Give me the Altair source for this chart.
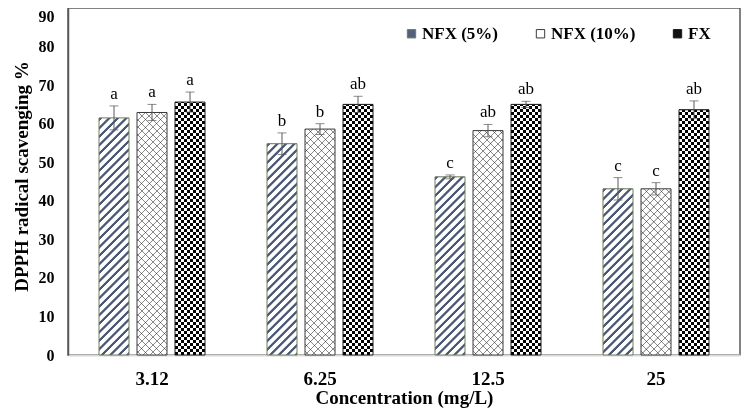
import altair as alt
import pandas as pd

# ---------------- data ----------------
concs = ["3.12", "6.25", "12.5", "25"]
series = ["NFX (5%)", "NFX (10%)", "FX"]
nfx5 = [61.5, 54.8, 46.2, 43.1]
nfx10 = [62.9, 58.6, 58.2, 43.1]
fx = [65.6, 65.0, 65.0, 63.6]
nfx5_err = [3.1, 2.8, 0.5, 2.9]
nfx10_err = [2.1, 1.4, 1.6, 1.6]
fx_err = [2.6, 2.1, 0.8, 2.3]
nfx5_lab = ["a", "b", "c", "c"]
nfx10_lab = ["a", "b", "ab", "c"]
fx_lab = ["a", "ab", "ab", "ab"]
y_ticks = [0, 10, 20, 30, 40, 50, 60, 70, 80, 90]

# ---------------- layout ----------------
PW, PH = 672, 347
YMAX = 90
BAND = PW / len(concs)
PI = 8 / 38
STEP = 38.0
PO = ((BAND / STEP) - 3 + PI) / 2
BW = STEP * (1 - PI)
FONT = "Liberation Serif"

rows = []
vals = [nfx5, nfx10, fx]
errs = [nfx5_err, nfx10_err, fx_err]
labs = [nfx5_lab, nfx10_lab, fx_lab]
idx = 0
for ci, c in enumerate(concs):
    for si, s in enumerate(series):
        v = vals[si][ci]
        e = errs[si][ci]
        rows.append(dict(idx=idx, conc=c, series=s, value=v, lo=v - e, hi=v + e,
                         label=labs[si][ci]))
        idx += 1
df = pd.DataFrame(rows)


def band_stops(L, period, on_len, on, off, soft=0.0, phase=0.0):
    stops = [{"offset": 0.0, "color": off}]
    k = 0
    while True:
        a = phase + k * period
        if a > L:
            break
        b = a + on_len
        for p, col in [(a, off), (a + soft, on), (b, on), (b + soft, off)]:
            o = min(max(p / L, 0.0), 1.0)
            if o < stops[-1]["offset"]:
                o = stops[-1]["offset"]
            stops.append({"offset": round(o, 5), "color": col})
        k += 1
    stops.append({"offset": 1.0, "color": off})
    return stops


def diag_grad(W, H, stops, up=True):
    s = (W + H) / (W * W + H * H)
    if up:  # "/" stripes
        return {"gradient": "linear", "x1": 0, "y1": 0, "x2": W * s, "y2": H * s, "stops": stops}
    return {"gradient": "linear", "x1": 0, "y1": 1, "x2": W * s, "y2": 1 - H * s, "stops": stops}


x_enc = alt.X("conc:N", sort=concs,
              scale=alt.Scale(domain=concs, paddingInner=0, paddingOuter=0),
              axis=alt.Axis(title="Concentration (mg/L)", labelAngle=0, labelFont=FONT,
                            labelFontSize=19, labelFontWeight="bold", labelColor="black",
                            labelPadding=14, ticks=False, tickSize=0,
                            domainColor="#d9d9d9", domainWidth=2,
                            titleFont=FONT, titleFontSize=19, titleFontWeight="bold",
                            titleColor="black", titlePadding=0))
xo_enc = alt.XOffset("series:N", sort=series,
                     scale=alt.Scale(domain=series, paddingInner=PI, paddingOuter=PO))
y_enc = alt.Y("value:Q", scale=alt.Scale(domain=[0, YMAX], nice=False),
              axis=alt.Axis(values=y_ticks, tickCount=10, title="DPPH radical scavenging %",
                            grid=False, ticks=False, tickSize=0, labelPadding=14,
                            labelOverlap=False, labelBound=False, labelFlush=False,
                            labelBaseline={"condition": {"test": "datum.value == 90", "value": "top"},
                                           "value": "middle"},
                            domainColor="#595959", domainWidth=1.5,
                            labelFont=FONT, labelFontSize=16, labelFontWeight="bold",
                            labelColor="black", titleFont=FONT, titleFontSize=19,
                            titleFontWeight="bold", titleColor="black", titlePadding=7,
                            titleY=168))

base = alt.Chart(df)

layers = []
# base bars carry the legend
layers.append(base.mark_bar().encode(
    x=x_enc, xOffset=xo_enc, y=y_enc,
    fill=alt.Fill("series:N", sort=series,
                  scale=alt.Scale(domain=series, range=["#55617a", "#ffffff", "#111111"]),
                  legend=alt.Legend(orient="none", legendX=335, legendY=17, direction="horizontal",
                                    title=None, symbolType="square", symbolSize=70,
                                    symbolStrokeColor="#555555", symbolStrokeWidth=1,
                                    labelFont=FONT, labelFontSize=17, labelFontWeight="bold",
                                    labelColor="black", labelOffset=2, columnPadding=33))))

for r in rows:
    H = r["value"] / YMAX * PH
    sub = base.transform_filter(alt.datum.idx == r["idx"])
    enc = dict(x=alt.X("conc:N", sort=concs), xOffset=alt.XOffset("series:N", sort=series),
               y=alt.Y("value:Q"))
    if r["series"] == "NFX (5%)":
        st = band_stops(BW + H, 8.5, 3.2, "#4b5876", "#ffffff", soft=0.9)
        layers.append(sub.mark_bar(fill=diag_grad(BW, H, st, True)).encode(**enc))
    elif r["series"] == "NFX (10%)":
        st = band_stops(BW + H, 7.5, 1.1, "#8a8a8a", "#ffffff", soft=0.35)
        layers.append(sub.mark_bar(fill=diag_grad(BW, H, st, True)).encode(**enc))
        st2 = band_stops(BW + H, 7.5, 1.1, "#8a8a8a", "#ffffff", soft=0.35, phase=3.0)
        layers.append(sub.mark_bar(fill=diag_grad(BW, H, st2, False), blend="multiply").encode(**enc))
    else:
        st = band_stops(H, 6.0, 3.0, "#ffffff", "#000000")
        layers.append(sub.mark_bar(fill={"gradient": "linear", "x1": 0, "y1": 1, "x2": 0, "y2": 0,
                                         "stops": st}).encode(**enc))
        st2 = band_stops(BW, 6.0, 3.0, "#ffffff", "#000000")
        layers.append(sub.mark_bar(fill={"gradient": "linear", "x1": 0, "y1": 0, "x2": 1, "y2": 0,
                                         "stops": st2}, blend="difference").encode(**enc))

# outlines
layers.append(base.mark_bar(fillOpacity=0, strokeWidth=1).encode(
    x=alt.X("conc:N", sort=concs), xOffset=alt.XOffset("series:N", sort=series), y=alt.Y("value:Q"),
    stroke=alt.Stroke("series:N", sort=series,
                      scale=alt.Scale(domain=series, range=["#6f7d58", "#3a3a3a", "#1a1a1a"]),
                      legend=None)))

# error bars
layers.append(base.mark_rule(color="#595959", strokeWidth=1).encode(
    x=alt.X("conc:N", sort=concs), xOffset=alt.XOffset("series:N", sort=series),
    y=alt.Y("lo:Q"), y2="hi:Q"))
for fld in ["hi", "lo"]:
    layers.append(base.mark_tick(color="#595959", thickness=1, size=9, orient="horizontal").encode(
        x=alt.X("conc:N", sort=concs), xOffset=alt.XOffset("series:N", sort=series),
        y=alt.Y(f"{fld}:Q")))

# significance letters
layers.append(base.mark_text(font=FONT, fontSize=17, baseline="alphabetic", dy=-7,
                             color="black").encode(
    x=alt.X("conc:N", sort=concs), xOffset=alt.XOffset("series:N", sort=series),
    y=alt.Y("hi:Q"), text="label:N"))

chart = alt.layer(*layers).properties(
    width=PW, height=PH,
    autosize=alt.AutoSizeParams(type="none"),
    padding={"left": 60, "top": 0, "right": 1, "bottom": 55},
    background="white",
).configure_view(stroke="#595959", strokeWidth=1.5).configure_axisY(labelOverlap=False)

chart.save("out.html", embed_options={"renderer": "svg", "actions": False})
